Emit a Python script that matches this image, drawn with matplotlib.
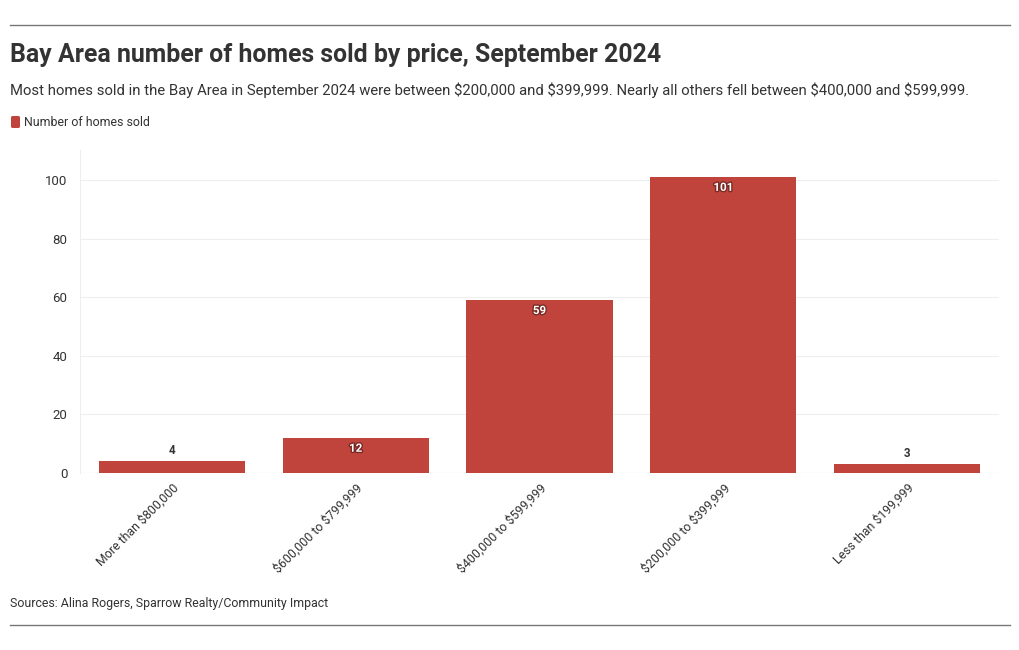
import matplotlib
matplotlib.use("Agg")
import matplotlib.pyplot as plt
import matplotlib.patheffects as pe
from matplotlib.patches import FancyBboxPatch
from matplotlib.lines import Line2D

categories = ["More than $800,000", "$600,000 to $799,999", "$400,000 to $599,999",
              "$200,000 to $399,999", "Less than $199,999"]
values = [4, 12, 59, 101, 3]
yticks = [0, 20, 40, 60, 80, 100]

title = "Bay Area number of homes sold by price, September 2024"
subtitle = ("Most homes sold in the Bay Area in September 2024 were between $200,000 and $399,999. "
            "Nearly all others fell between $400,000 and $599,999.")
legend_label = "Number of homes sold"
source = "Sources: Alina Rogers, Sparrow Realty/Community Impact"

BAR = "#c0443c"
TXT = "#333333"
plt.rcParams['text.parse_math'] = False
plt.rcParams['font.family'] = ['Roboto', 'DejaVu Sans']

W, H = 1020, 650
fig = plt.figure(figsize=(W / 100, H / 100), dpi=100)

def fx(px):
    return px / W

def fy(py):
    return 1 - py / H

fig.add_artist(Line2D([fx(10), fx(1010)], [fy(25), fy(25)], color="#777777", lw=1))
fig.add_artist(Line2D([fx(10), fx(1010)], [fy(625), fy(625)], color="#777777", lw=1))

fig.text(fx(10), fy(55), title, fontsize=17.9, fontweight='bold', color=TXT, va='center', ha='left')
fig.text(fx(10), fy(90), subtitle, fontsize=10.7, color=TXT, va='center', ha='left')
fig.add_artist(FancyBboxPatch((fx(11), fy(128)), fx(9), 12 / H,
                              boxstyle="round,pad=0,rounding_size=0.002",
                              transform=fig.transFigure, color=BAR, lw=0))
fig.text(fx(24), fy(122), legend_label, fontsize=8.9, color=TXT, va='center', ha='left')
fig.text(fx(10), fy(603), source, fontsize=8.9, color=TXT, va='center', ha='left')

ax = fig.add_axes([fx(80), fy(473), fx(999) - fx(80), (473 - 150) / H])
x = list(range(len(categories)))
bars = ax.bar(x, values, width=0.795, color=BAR, edgecolor='none', zorder=2)
ax.set_xlim(-0.5, len(categories) - 0.5)
ax.set_ylim(0, 110.2)
ax.set_yticks(yticks)
ax.set_yticklabels([str(t) for t in yticks], fontsize=9.5, color=TXT)
ax.set_xticks(x)
ax.set_xticklabels(categories, rotation=45, ha='right', rotation_mode='anchor',
                   fontsize=8.9, color=TXT)
ax.tick_params(axis='y', length=0, pad=9)
ax.tick_params(axis='x', length=0, pad=6)
ax.grid(axis='y', color="#eeeeee", lw=0.8, zorder=0)
for s in ['top', 'right', 'bottom']:
    ax.spines[s].set_visible(False)
ax.spines['left'].set_color("#eeeeee")
ax.axhline(0, color="#dddddd", lw=0.8, zorder=1)

for xi, v in zip(x, values):
    if v >= 10:
        ax.annotate(str(v), (xi, v), xytext=(0, -7.5), textcoords='offset points',
                    ha='center', va='center', fontsize=8.3, fontweight='bold', color='white',
                    path_effects=[pe.withStroke(linewidth=2, foreground="#7a2a25")])
    else:
        ax.annotate(str(v), (xi, v), xytext=(0, 7.5), textcoords='offset points',
                    ha='center', va='center', fontsize=8.3, fontweight='bold', color=TXT)

fig.savefig("out.png", dpi=100)
